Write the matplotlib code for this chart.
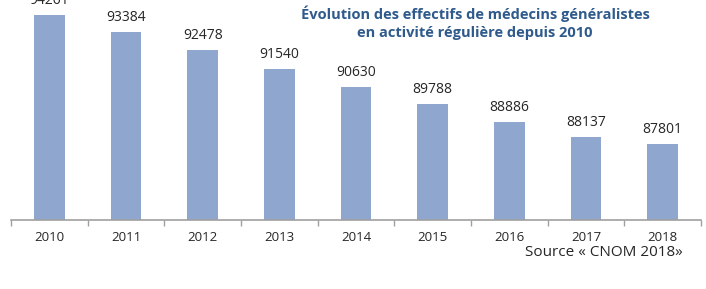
import matplotlib.pyplot as plt

annees = ['2010', '2011', '2012', '2013', '2014', '2015', '2016', '2017', '2018']
effectifs = [94261, 93384, 92478, 91540, 90630, 89788, 88886, 88137, 87801]

plt.rcParams['font.family'] = ['Open Sans', 'DejaVu Sans']

fig = plt.figure(figsize=(7.06, 2.89), dpi=100)
ax = fig.add_axes([11 / 706, 69 / 289, 690 / 706, 220 / 289])

x = range(len(annees))
bars = ax.bar(x, effectifs, width=0.4, color='#8FA7CF', zorder=2)
ax.set_ylim(84000, 95000)
ax.set_xlim(-0.5, len(annees) - 0.5)

# étiquettes de valeurs au-dessus des barres
for b, v in zip(bars, effectifs):
    ax.annotate(str(v), (b.get_x() + b.get_width() / 2, v),
                xytext=(0, 5), textcoords='offset points',
                ha='center', va='bottom', fontsize=10, color='#262626')

ax.set_xticks(list(x))
ax.set_xticklabels(annees, fontsize=9.5, color='#262626')
ax.tick_params(axis='x', length=0, pad=8)
# petites graduations entre les catégories
ax.set_xticks([i - 0.5 for i in range(len(annees) + 1)], minor=True)
ax.tick_params(axis='x', which='minor', length=4, color='#A0A0A0', width=1)

ax.set_yticks([])
for s in ['top', 'right', 'left']:
    ax.spines[s].set_visible(False)
ax.spines['bottom'].set_color('#A0A0A0')
ax.spines['bottom'].set_linewidth(1.2)

fig.text(475 / 706, 1 - 14 / 289, 'Évolution des effectifs de médecins généralistes',
         ha='center', va='center', fontsize=10.5, fontweight='bold', color='#2F5A8C')
fig.text(475 / 706, 1 - 33 / 289, 'en activité régulière depuis 2010',
         ha='center', va='center', fontsize=10.5, fontweight='bold', color='#2F5A8C')
fig.text(683 / 706, 1 - 253 / 289, 'Source « CNOM 2018»',
         ha='right', va='center', fontsize=11, color='#262626')

plt.savefig('out.png', dpi=100)
